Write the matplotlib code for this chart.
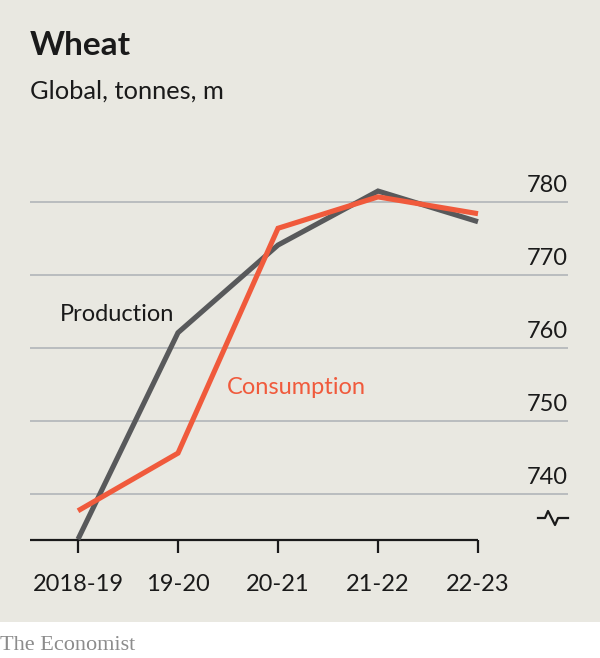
import matplotlib
matplotlib.use("Agg")
import matplotlib.pyplot as plt
from matplotlib.lines import Line2D
from matplotlib.transforms import blended_transform_factory

# ---- data ----
categories = ["2018-19", "19-20", "20-21", "21-22", "22-23"]
production = [733.8, 762.1, 774.1, 781.5, 777.3]
consumption = [737.7, 745.6, 776.4, 780.7, 778.4]
yticks = [740, 750, 760, 770, 780]

W, H = 600, 658
BG = "#e9e8e1"
GRID = "#b9bcbf"
PROD_C = "#58595b"
CONS_C = "#f05a3c"
FONT = "Lato"

fig = plt.figure(figsize=(W / 100, H / 100), dpi=100)
fig.patch.set_facecolor("white")

def fx(px):
    return px / W

def fy(py):
    return 1 - py / H

# grey panel
panel = plt.Rectangle((0, fy(622)), 1, 1 - fy(622), transform=fig.transFigure,
                      facecolor=BG, edgecolor="none", zorder=-10)
fig.patches.append(panel)

# axes geometry in pixels
ax_l, ax_r, ax_t, ax_b = 30, 568, 170, 540
ax = fig.add_axes([fx(ax_l), fy(ax_b), fx(ax_r) - fx(ax_l), fy(ax_t) - fy(ax_b)])
ax.set_facecolor("none")
ax.set_zorder(5)

# data mapping: index i at pixel 78 + 100 i ; 780 at 202, 740 at 494
px_per_idx = 100.0
x0 = -(78 - ax_l) / px_per_idx
x1 = (ax_r - 78) / px_per_idx
ppu = (494 - 202) / 40.0
y_top = 780 + (202 - ax_t) / ppu
y_bot = 740 - (ax_b - 494) / ppu
ax.set_xlim(x0, x1)
ax.set_ylim(y_bot, y_top)

for s in ax.spines.values():
    s.set_visible(False)

# gridlines
for v in yticks:
    ax.axhline(v, color=GRID, lw=1.4, zorder=1)
    ax.text(x1, v + 10 / ppu, str(v), ha="right", va="baseline",
            fontsize=17, family=FONT, color="#1a1a1a")

# baseline and ticks
xs = list(range(len(categories)))
ax.hlines(y_bot, x0, xs[-1], color="#1a1a1a", lw=1.6, clip_on=False, zorder=3)
ax.set_xticks(xs)
ax.set_xticklabels([])
ax.tick_params(axis="x", direction="out", length=13 * 0.72, width=1.6,
               color="#1a1a1a", bottom=True)
ax.set_yticks([])

trans = blended_transform_factory(ax.transData, fig.transFigure)
for i, c in enumerate(categories):
    ax.text(i, fy(591), c, ha="center", va="baseline", fontsize=17,
            family=FONT, color="#1a1a1a", transform=trans, clip_on=False)

# lines
ax.plot(xs, production, color=PROD_C, lw=3.7, solid_joinstyle="miter",
        solid_capstyle="butt", zorder=4, clip_on=False)
ax.plot(xs, consumption, color=CONS_C, lw=3.7, solid_joinstyle="miter",
        solid_capstyle="butt", zorder=5, clip_on=False)

# series labels
fig.text(fx(60), fy(321), "Production", ha="left", va="baseline", fontsize=17,
         family=FONT, color="#1a1a1a")
fig.text(fx(227), fy(394), "Consumption", ha="left", va="baseline", fontsize=17,
         family=FONT, color=CONS_C)

# titles
fig.text(fx(30), fy(55), "Wheat", ha="left", va="baseline", fontsize=24,
         family=FONT, fontweight="bold", color="#1a1a1a")
fig.text(fx(30), fy(99), "Global, tonnes, m", ha="left", va="baseline", fontsize=18.3,
         family=FONT, color="#1a1a1a")

# axis break symbol
bx = [538, 545, 548, 555, 558, 568]
by = [518, 518, 511, 525, 518, 518]
fig.lines.append(Line2D([fx(v) for v in bx], [fy(v) for v in by],
                        transform=fig.transFigure, color="#1a1a1a", lw=1.6))

# footer
fig.text(fx(0), fy(650), "The Economist", ha="left", va="baseline", fontsize=16,
         family="Liberation Serif", color="#8c8c8c")

fig.savefig("out.png", dpi=100, facecolor=fig.get_facecolor())
